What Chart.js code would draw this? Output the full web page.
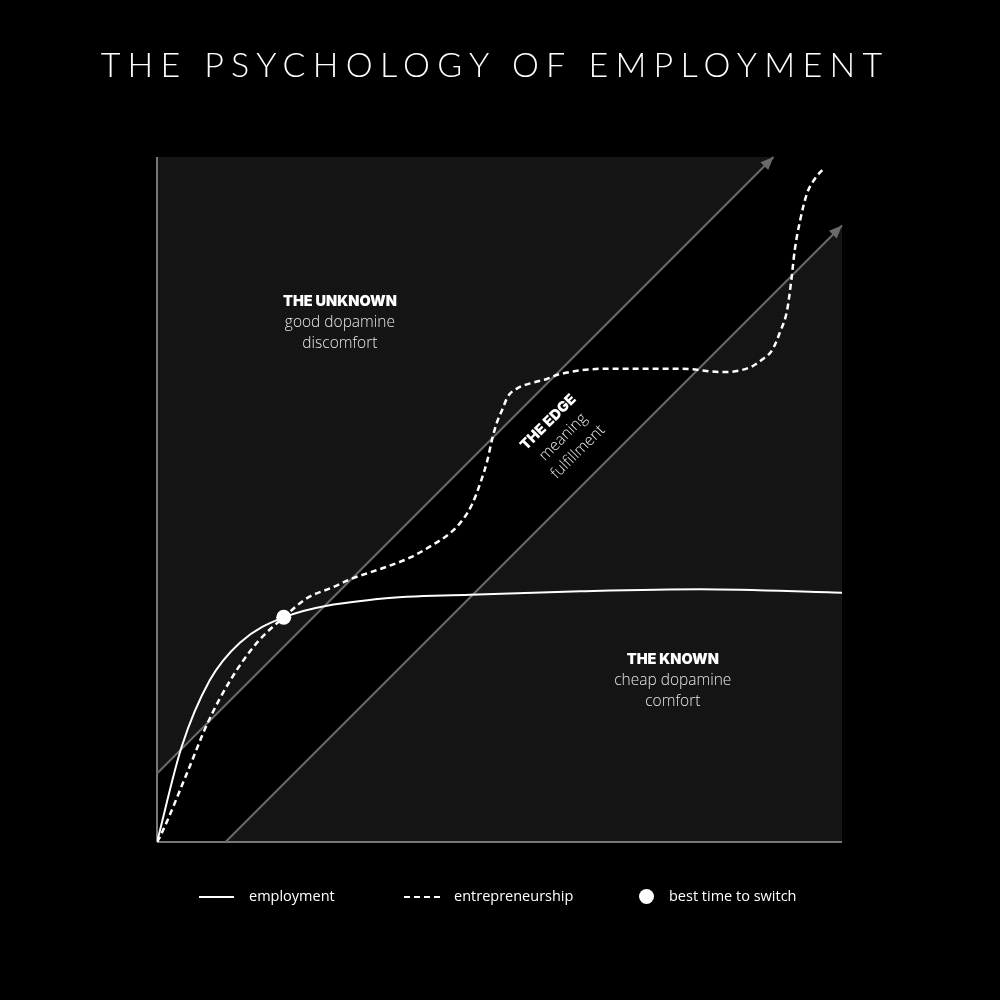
<!DOCTYPE html>
<html>
<head>
<meta charset="utf-8">
<script src="https://cdn.jsdelivr.net/npm/chart.js@4.4.1/dist/chart.umd.min.js"></script>
<style>
  html, body { margin: 0; padding: 0; background: #000; }
  #wrap { position: relative; width: 1000px; height: 1000px; overflow: hidden; }
  #title {
    position: absolute; left: 0; top: 43px; width: 1000px;
    text-align: center; color: #fff; font-family: Lato, "Open Sans", sans-serif;
    font-weight: 300; font-size: 34px; letter-spacing: 7.3px; text-indent: -10px;
  }
  .lg { position: absolute; top: 886px; color: #fff; font-family: "Open Sans", Lato, sans-serif;
        font-weight: 400; font-size: 14.5px; line-height: 20px; }
  .sw { position: absolute; }
</style>
</head>
<body>
<div id="wrap">
  <canvas id="c" width="1000" height="1000"></canvas>
  <div id="title">THE PSYCHOLOGY OF EMPLOYMENT</div>
  <div class="sw" style="left:199px;top:896px;width:35px;height:0;border-top:2px solid #fff;"></div>
  <div class="lg" style="left:249px;">employment</div>
  <div class="sw" style="left:404px;top:896px;width:36px;height:0;border-top:2px dashed #fff;"></div>
  <div class="lg" style="left:454px;">entrepreneurship</div>
  <div class="sw" style="left:639px;top:889px;width:15px;height:15px;border-radius:50%;background:#fff;"></div>
  <div class="lg" style="left:669px;">best time to switch</div>
</div>
<script>
// curves (x: 0..100, y: 0..100)
const employmentX = [0, 3.6, 7.7, 12.1, 18.5, 32.6, 45.7, 61.8, 79.3, 100];
const employmentY = [0, 13.9, 23.6, 29.1, 32.8, 35.5, 36.1, 36.6, 36.9, 36.4];

const entrepreneurX = [0, 0.4, 4.4, 7.4, 10.7, 14.6, 18.5, 21.9, 25.7, 28.6, 33.0, 36.9, 40.3, 42.8, 44.6, 46.0, 47.2, 48.2, 48.9, 49.6, 50.4, 51.2, 52.7, 54.7, 56.9, 58.8, 65.7, 76.4, 82.6, 86.6, 88.3, 89.8, 90.9, 92.0, 92.6, 93.1, 93.9, 94.9, 96.1, 97.4];
const entrepreneurY = [0, 0.7, 10.1, 17.4, 23.6, 29.1, 32.8, 35.6, 37.2, 38.5, 40.0, 41.5, 43.4, 45.1, 47.0, 49.3, 52.4, 55.6, 58.7, 61.2, 63.1, 65.0, 66.3, 67.0, 67.6, 68.3, 69.1, 69.1, 68.6, 69.3, 70.4, 71.8, 74.3, 77.7, 82.0, 86.4, 90.8, 94.7, 96.9, 98.4];

const switchPoint = [18.5, 32.8];

// the edge band limits
const upperEdgeX = [0, 90];
const upperEdgeY = [10, 100];
const lowerEdgeX = [10, 100];
const lowerEdgeY = [0, 90];
const bandX = [0, 0, 90, 100, 100, 10];
const bandY = [0, 10, 100, 100, 90, 0];

// region labels, centred on the middle line
const regionLabels = [
  { x: 26.7, y: 75.8, head: 'THE UNKNOWN', lines: ['good dopamine', 'discomfort'], rot: 0 },
  { x: 75.3, y: 23.6, head: 'THE KNOWN', lines: ['cheap dopamine', 'comfort'], rot: 0 },
  { x: 59.3, y: 59.1, head: 'THE EDGE', lines: ['meaning', 'fulfillment'], rot: -45 }
];

const pts = (xs, ys) => xs.map((x, i) => ({ x, y: ys[i] }));

const makePattern = (ctx) => {
  const p = document.createElement('canvas');
  p.width = 4; p.height = 4;
  const g = p.getContext('2d');
  g.fillStyle = '#141414';
  g.fillRect(0, 0, 4, 4);
  g.fillStyle = '#1b1b1b';
  g.fillRect(1, 1, 1, 1);
  return ctx.createPattern(p, 'repeat');
};

const bgPlugin = {
  id: 'bg',
  beforeDraw(chart) {
    const { ctx, chartArea: a } = chart;
    ctx.save();
    ctx.fillStyle = '#000';
    ctx.fillRect(0, 0, chart.width, chart.height);
    ctx.fillStyle = makePattern(ctx);
    ctx.fillRect(a.left, a.top, a.right - a.left, a.bottom - a.top);
    ctx.restore();
  }
};

const arrow = (ctx, x0, y0, x1, y1) => {
  const ang = Math.atan2(y1 - y0, x1 - x0);
  const len = 13, half = 5.5;
  ctx.beginPath();
  ctx.moveTo(x1, y1);
  ctx.lineTo(x1 - len * Math.cos(ang) + half * Math.sin(ang), y1 - len * Math.sin(ang) - half * Math.cos(ang));
  ctx.lineTo(x1 - len * Math.cos(ang) - half * Math.sin(ang), y1 - len * Math.sin(ang) + half * Math.cos(ang));
  ctx.closePath();
  ctx.fill();
};

const overlayPlugin = {
  id: 'overlay',
  afterDatasetsDraw(chart) {
    const { ctx, scales: { x, y } } = chart;
    ctx.save();
    ctx.fillStyle = '#6a6a6a';
    arrow(ctx, x.getPixelForValue(upperEdgeX[0]), y.getPixelForValue(upperEdgeY[0]),
      x.getPixelForValue(upperEdgeX[1]), y.getPixelForValue(upperEdgeY[1]));
    arrow(ctx, x.getPixelForValue(lowerEdgeX[0]), y.getPixelForValue(lowerEdgeY[0]),
      x.getPixelForValue(lowerEdgeX[1]), y.getPixelForValue(lowerEdgeY[1]));

    ctx.textAlign = 'center';
    ctx.textBaseline = 'middle';
    regionLabels.forEach(r => {
      ctx.save();
      ctx.translate(x.getPixelForValue(r.x), y.getPixelForValue(r.y));
      ctx.rotate(r.rot * Math.PI / 180);
      ctx.fillStyle = '#fff';
      ctx.font = '900 14.5px Inter, "Open Sans", sans-serif';
      ctx.fillText(r.head, 0, -21);
      ctx.fillStyle = '#e6e6e6';
      ctx.font = '300 15.5px "Open Sans", Lato, sans-serif';
      r.lines.forEach((l, i) => ctx.fillText(l, 0, i * 21));
      ctx.restore();
    });
    ctx.restore();
  }
};

new Chart(document.getElementById('c'), {
  type: 'line',
  data: {
    datasets: [
      {
        label: 'best time to switch',
        data: [{ x: switchPoint[0], y: switchPoint[1] }],
        showLine: false,
        pointRadius: 7.5,
        pointBackgroundColor: '#fff',
        pointBorderWidth: 0,
        order: 1
      },
      {
        label: 'employment',
        data: pts(employmentX, employmentY),
        borderColor: '#fff',
        borderWidth: 2,
        pointRadius: 0,
        cubicInterpolationMode: 'monotone',
        order: 2
      },
      {
        label: 'entrepreneurship',
        data: pts(entrepreneurX, entrepreneurY),
        borderColor: '#fff',
        borderWidth: 2.5,
        borderDash: [6, 4],
        pointRadius: 0,
        cubicInterpolationMode: 'monotone',
        order: 3
      },
      {
        label: 'upper edge',
        data: pts(upperEdgeX, upperEdgeY),
        borderColor: '#6a6a6a',
        borderWidth: 2,
        pointRadius: 0,
        clip: false,
        order: 7
      },
      {
        label: 'lower edge',
        data: pts(lowerEdgeX, lowerEdgeY),
        borderColor: '#6a6a6a',
        borderWidth: 2,
        pointRadius: 0,
        clip: false,
        order: 7
      },
      {
        label: 'y axis',
        data: pts([0, 0], [0, 100]),
        borderColor: '#777',
        borderWidth: 2,
        pointRadius: 0,
        clip: false,
        order: 8
      },
      {
        label: 'x axis',
        data: pts([0, 100], [0, 0]),
        borderColor: '#777',
        borderWidth: 2,
        pointRadius: 0,
        clip: false,
        order: 8
      },
      {
        label: 'edge band',
        data: pts(bandX, bandY),
        borderWidth: 0,
        borderColor: 'rgba(0,0,0,0)',
        backgroundColor: '#000',
        fill: 'shape',
        pointRadius: 0,
        order: 10
      }
    ]
  },
  options: {
    responsive: false,
    animation: false,
    devicePixelRatio: 1,
    layout: { padding: { left: 157, top: 157, right: 158, bottom: 158 } },
    scales: {
      x: { type: 'linear', min: 0, max: 100, display: false },
      y: { type: 'linear', min: 0, max: 100, display: false }
    },
    plugins: {
      legend: { display: false },
      tooltip: { enabled: false }
    }
  },
  plugins: [bgPlugin, overlayPlugin]
});
</script>
</body>
</html>
